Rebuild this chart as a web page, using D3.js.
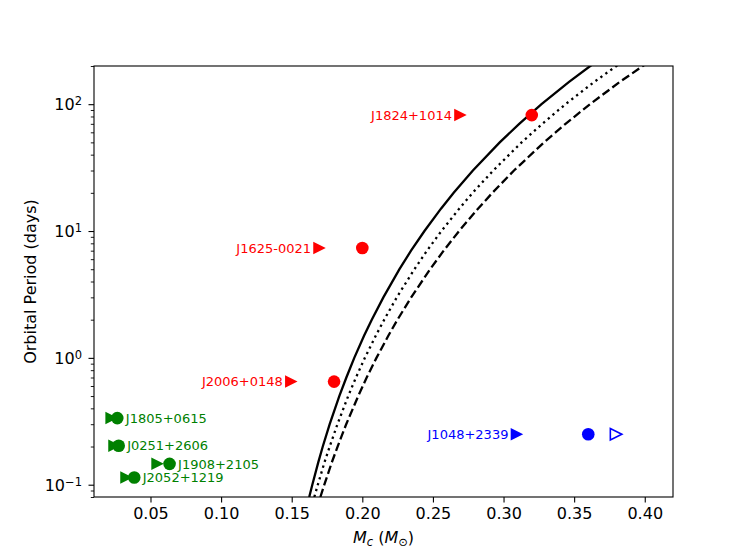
<!DOCTYPE html>
<html>
<head>
<meta charset="utf-8">
<script src="https://cdn.jsdelivr.net/npm/d3@7/dist/d3.min.js"></script>
<style>
  html, body { margin: 0; padding: 0; background: #fff; }
  text { font-family: "DejaVu Sans", sans-serif; }
</style>
</head>
<body>
<svg id="chart" width="747" height="559"></svg>
<script>
// ---- Data ----
// Curve samples: orbital period (days) and companion mass (Msun)
const curvePeriods = [0.08, 0.1, 0.15, 0.2, 0.3, 0.5, 0.7, 1, 1.5, 2, 3, 5, 7, 10, 15, 20, 30, 50, 70, 100, 150, 200, 250];
const curveSolidMc  = [0.1624, 0.1646, 0.1688, 0.1720, 0.1769, 0.1837, 0.1887, 0.1943, 0.2013, 0.2067, 0.2149, 0.2263, 0.2345, 0.2440, 0.2557, 0.2647, 0.2783, 0.2973, 0.3111, 0.3269, 0.3464, 0.3614, 0.3736];
const curveDottedMc = [0.1660, 0.1685, 0.1732, 0.1769, 0.1824, 0.1900, 0.1955, 0.2018, 0.2096, 0.2155, 0.2244, 0.2369, 0.2458, 0.2560, 0.2686, 0.2781, 0.2927, 0.3128, 0.3274, 0.3439, 0.3643, 0.3799, 0.3926];
const curveDashedMc = [0.1703, 0.1731, 0.1784, 0.1825, 0.1886, 0.1971, 0.2031, 0.2100, 0.2185, 0.2249, 0.2346, 0.2480, 0.2576, 0.2685, 0.2819, 0.2921, 0.3074, 0.3287, 0.3439, 0.3612, 0.3824, 0.3986, 0.4117];

// Pulsars
const pulsarNames    = ["J1824+1014", "J1625-0021", "J2006+0148", "J1048+2339", "J1805+0615", "J0251+2606", "J1908+2105", "J2052+1219"];
const pulsarGroups   = ["red", "red", "red", "blue", "green", "green", "green", "green"];
const pulsarPeriods  = [82, 7.35, 0.65, 0.25, 0.335, 0.203, 0.146, 0.114];
const pulsarMcCircle = [0.32, 0.20, 0.18, 0.36, 0.0265, 0.0275, 0.0635, 0.0385];
const pulsarMcTri    = [0.2695, 0.1697, 0.1497, 0.3095, 0.0225, 0.0245, 0.0550, 0.0330];
// Open-triangle marker (J1048+2339)
const openTriMc = [0.3797];
const openTriP  = [0.25];

// Axis ticks
const xTicks = [0.05, 0.10, 0.15, 0.20, 0.25, 0.30, 0.35, 0.40];
const yTicks = [0.1, 1, 10, 100];
const yTickExp = ["\u22121", "0", "1", "2"];

// ---- Layout ----
const W = 747, H = 559;
const m = { left: 94, right: 673, top: 66, bottom: 497 };
const svg = d3.select("#chart");

const x = d3.scaleLinear().domain([0.01, 0.42]).range([m.left, m.right]);
const y = d3.scaleLog().domain([0.08, 200]).range([m.bottom, m.top]);

const colorOf = { red: "#ff0000", green: "#008000", blue: "#0000ff" };

svg.append("defs").append("clipPath").attr("id", "clip")
  .append("rect").attr("x", m.left).attr("y", m.top)
  .attr("width", m.right - m.left).attr("height", m.bottom - m.top);

const plot = svg.append("g").attr("clip-path", "url(#clip)");

// Curves
const line = d3.line().x(d => x(d[0])).y(d => y(d[1]));
function curveData(mcs) { return mcs.map((mc, i) => [mc, curvePeriods[i]]); }
plot.append("path").datum(curveData(curveSolidMc)).attr("d", line)
  .attr("fill", "none").attr("stroke", "#000").attr("stroke-width", 2.3);
plot.append("path").datum(curveData(curveDottedMc)).attr("d", line)
  .attr("fill", "none").attr("stroke", "#000").attr("stroke-width", 2.3)
  .attr("stroke-dasharray", "2.3,3.8");
plot.append("path").datum(curveData(curveDashedMc)).attr("d", line)
  .attr("fill", "none").attr("stroke", "#000").attr("stroke-width", 2.3)
  .attr("stroke-dasharray", "8.5,3.7");

// Markers
const triPath = (cx, cy, s) => {
  const h = s / 2;
  return `M${cx + h},${cy} L${cx - h},${cy - h} L${cx - h},${cy + h} Z`;
};
const markerSize = 12.5;

pulsarNames.forEach((name, i) => {
  const col = colorOf[pulsarGroups[i]];
  const py = y(pulsarPeriods[i]);
  const tx = x(pulsarMcTri[i]);
  const cx = x(pulsarMcCircle[i]);
  plot.append("path").attr("d", triPath(tx, py, markerSize)).attr("fill", col);
  plot.append("circle").attr("cx", cx).attr("cy", py).attr("r", 6.3).attr("fill", col);
  if (pulsarGroups[i] === "green") {
    svg.append("text").attr("x", cx + 8.5).attr("y", py).attr("dy", "0.36em")
      .attr("font-size", 13).attr("fill", col).text(name);
  } else {
    svg.append("text").attr("x", tx - 8.5).attr("y", py).attr("dy", "0.36em")
      .attr("text-anchor", "end").attr("font-size", 13).attr("fill", col).text(name);
  }
});
openTriMc.forEach((mc, i) => {
  plot.append("path").attr("d", triPath(x(mc), y(openTriP[i]), 11.5))
    .attr("fill", "none").attr("stroke", "#0000ff").attr("stroke-width", 1.6);
});

// Frame
svg.append("rect").attr("x", m.left).attr("y", m.top)
  .attr("width", m.right - m.left).attr("height", m.bottom - m.top)
  .attr("fill", "none").attr("stroke", "#000").attr("stroke-width", 1.1);

// X axis
const xAxis = d3.axisBottom(x).tickValues(xTicks).tickFormat(d3.format(".2f"))
  .tickSize(5.5).tickPadding(5);
const gx = svg.append("g").attr("transform", `translate(0,${m.bottom})`).call(xAxis);
gx.select(".domain").remove();
gx.selectAll("line").attr("stroke", "#000").attr("stroke-width", 1.1);
gx.selectAll("text").attr("font-size", 16).attr("fill", "#000").attr("font-family", "DejaVu Sans");

// Y axis major
const yAxis = d3.axisLeft(y).tickValues(yTicks).tickFormat("").tickSize(5.5);
const gy = svg.append("g").attr("transform", `translate(${m.left},0)`).call(yAxis);
gy.select(".domain").remove();
gy.selectAll("line").attr("stroke", "#000").attr("stroke-width", 1.1);
gy.selectAll(".tick").each(function (d, i) {
  const t = d3.select(this).append("text").attr("x", -12).attr("dy", "0.36em")
    .attr("text-anchor", "end").attr("fill", "#000").attr("font-size", 16);
  t.append("tspan").text("10");
  t.append("tspan").attr("dy", "-0.45em").attr("font-size", 11.5).text(yTickExp[i]);
});
// Y axis minor
const minor = [];
[0.01, 0.1, 1, 10, 100].forEach(dec => {
  for (let k = 2; k <= 9; k++) {
    const v = dec * k;
    if (v >= 0.08 && v <= 200) minor.push(v);
  }
});
const yMinor = d3.axisLeft(y).tickValues(minor).tickFormat("").tickSize(3.2);
const gym = svg.append("g").attr("transform", `translate(${m.left},0)`).call(yMinor);
gym.select(".domain").remove();
gym.selectAll("line").attr("stroke", "#000").attr("stroke-width", 0.9);

// Axis labels
const xl = svg.append("text").attr("x", (m.left + m.right) / 2).attr("y", 543)
  .attr("text-anchor", "middle").attr("font-size", 16).attr("fill", "#000");
xl.append("tspan").attr("font-style", "italic").text("M");
xl.append("tspan").attr("font-style", "italic").attr("font-size", 11.5).attr("dy", "0.25em").text("c");
xl.append("tspan").attr("dy", "-0.18em").text(" (");
xl.append("tspan").attr("font-style", "italic").text("M");
xl.append("tspan").attr("font-size", 11.5).attr("dy", "0.25em").text("\u2299");
xl.append("tspan").attr("dy", "-0.18em").text(")");

svg.append("text").attr("transform", `translate(36,${(m.top + m.bottom) / 2}) rotate(-90)`)
  .attr("text-anchor", "middle").attr("font-size", 16).attr("fill", "#000")
  .text("Orbital Period (days)");
</script>
</body>
</html>
